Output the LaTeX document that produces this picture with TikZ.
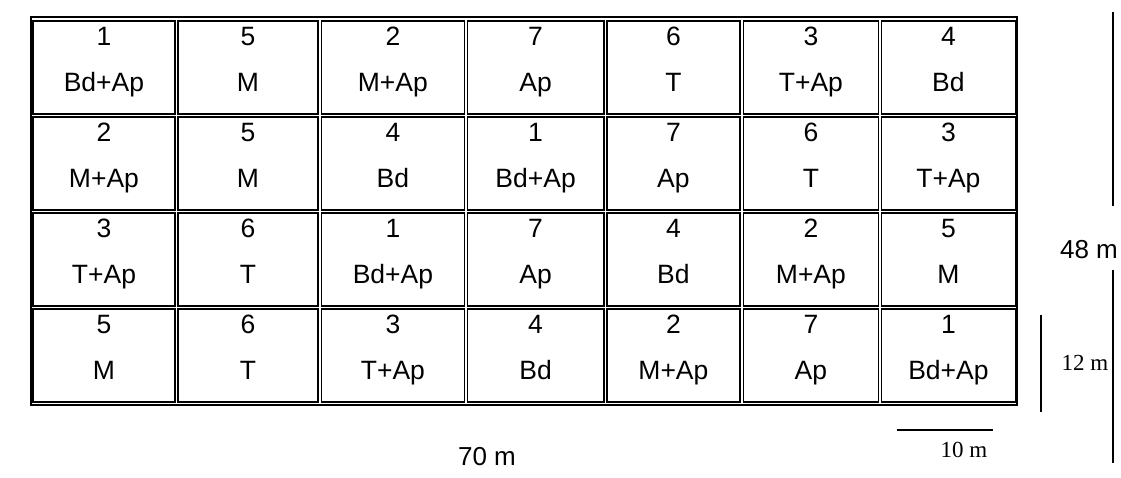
\documentclass[tikz,border=0pt]{standalone}
\usepackage{fontspec}
\setmainfont{Liberation Sans}
\newfontfamily\scalefont{Liberation Serif}

% column edges (left / right) and row tops of the plot cells
\def\lefts{{33.2,177.8,321.5,467.5,606.8,743.3,881.3}}
\def\rights{{174.7,318.2,464.3,603.7,740.0,878.5,1015.5}}
\def\tops{{21,117,213,309}}

% one row of plots: #1 = row index, #2 = list of treatment/label pairs
\newcommand\plotrow[2]{%
  \foreach [count=\c from 0] \pnum/\ptrt in {#2} {
    \pgfmathsetmacro\xl{\lefts[\c]}
    \pgfmathsetmacro\xr{\rights[\c]}
    \pgfmathsetmacro\yt{\tops[#1]}
    \pgfmathsetmacro\yb{\yt+92.7}
    \pgfmathsetmacro\xm{(\xl+\xr)/2}
    \draw[plotbox] (\xl,\yt) rectangle (\xr,\yb);
    \node[lbl] (num-#1-\c) at (\xm,\yt+24.7) {\pnum};
    \node[lbl] (trt-#1-\c) at (\xm,\yt+70.7) {\ptrt};
  }%
}

\begin{document}
\begin{tikzpicture}[x=1pt,y=-1pt,
  frame/.style={draw,line width=1.8pt},
  plotbox/.style={draw,line width=1.6pt},
  lbl/.style={anchor=base,inner sep=0pt,font=\fontsize{26.5}{31}\selectfont},
  dimtext/.style={inner sep=0pt,font=\fontsize{26}{31}\selectfont},
  scaletext/.style={inner sep=0pt,font=\scalefont\fontsize{23}{27}\selectfont},
  scalebar/.style={line width=1.3pt}]
\useasboundingbox (0,0) rectangle (1121,477);

% outer border of the field
\draw[frame] (31,17.2) rectangle (1017.3,405);

% plots
\plotrow{0}{1/Bd+Ap,5/M,2/M+Ap,7/Ap,6/T,3/T+Ap,4/Bd}
\plotrow{1}{2/M+Ap,5/M,4/Bd,1/Bd+Ap,7/Ap,6/T,3/T+Ap}
\plotrow{2}{3/T+Ap,6/T,1/Bd+Ap,7/Ap,4/Bd,2/M+Ap,5/M}
\plotrow{3}{5/M,6/T,3/T+Ap,4/Bd,2/M+Ap,7/Ap,1/Bd+Ap}

% field dimensions
\node[dimtext] (width) at (487,457) {70 m};
\node[dimtext] (height) at (1089,250) {48 m};
\coordinate (htop) at (1113,12);
\coordinate (hgap1) at (1113,206);
\coordinate (hgap2) at (1113,270);
\coordinate (hbot) at (1113,463);
\draw[scalebar] (htop) -- (hgap1);
\draw[scalebar] (hgap2) -- (hbot);

% plot dimensions
\node[scaletext] (plotH) at (1085,363) {12 m};
\coordinate (phtop) at (1041,315);
\coordinate (phbot) at (1041,411.7);
\draw[scalebar] (phtop) -- (phbot);
\node[scaletext] (plotW) at (964,450) {10 m};
\coordinate (pwl) at (896.7,430);
\coordinate (pwr) at (993.3,430);
\draw[scalebar] (pwl) -- (pwr);
\end{tikzpicture}
\end{document}
